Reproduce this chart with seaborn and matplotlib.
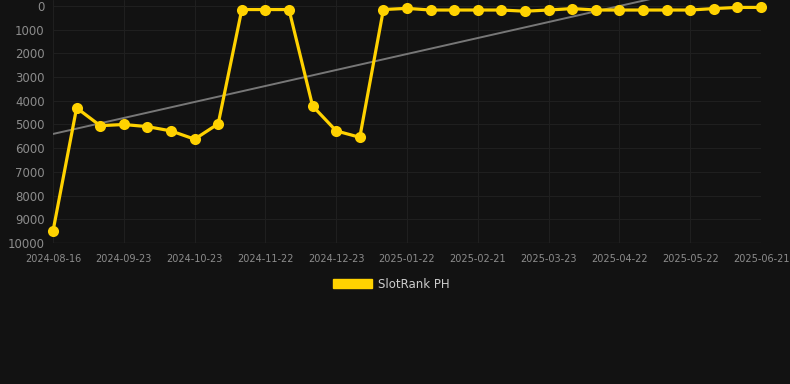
import numpy as np
import pandas as pd
import seaborn as sns
import matplotlib.pyplot as plt
from matplotlib.patches import Patch

# Dates (category axis, only every 3rd one is labelled)
dates = ['2024-08-16', '2024-08-29', '2024-09-11', '2024-09-23', '2024-10-03',
         '2024-10-13', '2024-10-23', '2024-11-02', '2024-11-12', '2024-11-22',
         '2024-12-02', '2024-12-12', '2024-12-23', '2025-01-02', '2025-01-12',
         '2025-01-22', '2025-02-01', '2025-02-11', '2025-02-21', '2025-03-03',
         '2025-03-13', '2025-03-23', '2025-04-02', '2025-04-12', '2025-04-22',
         '2025-05-02', '2025-05-12', '2025-05-22', '2025-06-01', '2025-06-11',
         '2025-06-21']
rank = [9500, 4300, 5050, 5000, 5090, 5270, 5620, 4970, 150, 150,
        150, 4220, 5270, 5540, 150, 100, 170, 170, 170, 170,
        220, 170, 110, 170, 170, 170, 170, 170, 110, 60,
        60]
series_name = 'SlotRank PH'

bg = '#121212'
yellow = '#FFD200'
grid_c = '#1f1f1f'
tick_c = '#8c8c8c'

df = pd.DataFrame({'idx': np.arange(len(dates)), 'rank': rank})

sns.set_theme(style='dark')
plt.rcParams['font.family'] = ['DejaVu Sans']

fig = plt.figure(figsize=(7.9, 3.84), dpi=100, facecolor=bg)
ax = fig.add_axes([53 / 790, (384 - 243) / 384, (761 - 53) / 790, 243 / 384])
ax.set_facecolor(bg)

# Trend line (linear fit)
k, b = np.polyfit(df['idx'], df['rank'], 1)
ax.plot(df['idx'], k * df['idx'] + b, color='#777777', lw=1.4, zorder=2)

sns.lineplot(data=df, x='idx', y='rank', ax=ax, color=yellow, lw=2.3,
             marker='o', markersize=8, markeredgewidth=0, zorder=3, clip_on=False)

ax.set_xlim(0, len(dates) - 1)
ax.set_ylim(10000, -253)
ax.set_yticks(np.arange(0, 10001, 1000))
ax.set_yticklabels([str(v) for v in range(0, 10001, 1000)], fontsize=8.5, color=tick_c)
ax.set_xticks(df['idx'][::3])
ax.set_xticklabels(dates[::3], fontsize=7, color=tick_c)
ax.tick_params(axis='x', length=5, color=grid_c, pad=3)
ax.tick_params(axis='y', length=0, pad=6)
ax.grid(True, color=grid_c, lw=0.8)
ax.set_xlabel('')
ax.set_ylabel('')
for s in ax.spines.values():
    s.set_visible(False)
ax.axhline(10000, color='#282828', lw=1, zorder=1)

fig.legend(handles=[Patch(facecolor=yellow, edgecolor=yellow, label=series_name)],
           loc='center', bbox_to_anchor=(0.5 - 4 / 790, 1 - 284 / 384), frameon=False,
           handlelength=3.3, handleheight=0.9, fontsize=8.5, labelcolor='#cccccc',
           handletextpad=0.5)

fig.savefig('out.png', dpi=100, facecolor=bg)
